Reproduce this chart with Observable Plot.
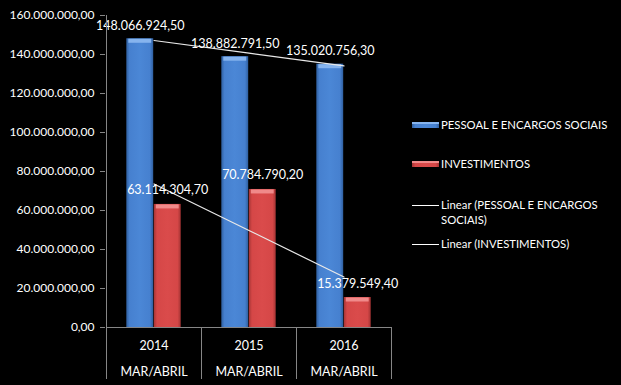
<!DOCTYPE html>
<html>
<head>
<meta charset="utf-8">
<script src="https://cdn.jsdelivr.net/npm/d3@7"></script>
<script src="https://cdn.jsdelivr.net/npm/@observablehq/plot@0.6"></script>
<style>
  html, body { margin: 0; padding: 0; background: #000; }
  #chart { width: 621px; height: 385px; overflow: hidden; }
</style>
</head>
<body>
<div id="chart"></div>
<script>
const years = ["2014", "2015", "2016"];
const periodLabel = "MAR/ABRIL";
const seriesNames = ["PESSOAL E ENCARGOS SOCIAIS", "INVESTIMENTOS"];
const pessoal = [148066924.50, 138882791.50, 135020756.30];
const investimentos = [63114304.70, 70784790.20, 15379549.40];
const yTicks = [0, 20e6, 40e6, 60e6, 80e6, 100e6, 120e6, 140e6, 160e6];

const FONT = "Lato, 'DejaVu Sans', sans-serif";
const br = d3.formatLocale({decimal: ",", thousands: ".", grouping: [3], currency: ["R$", ""]});
const fmt = br.format(",.2f");

const pData = years.map((year, i) => ({year, value: pessoal[i], series: seriesNames[0]}));
const iData = years.map((year, i) => ({year, value: investimentos[i], series: seriesNames[1]}));

// least-squares linear trend over category index (Excel "Linear" trendline)
function trend(values, name) {
  const xs = values.map((_, i) => i + 1);
  const mx = d3.mean(xs), my = d3.mean(values);
  const b = d3.sum(xs, (x, i) => (x - mx) * (values[i] - my)) / d3.sum(xs, x => (x - mx) ** 2);
  const a = my - b * mx;
  return years.map((year, i) => ({year, value: a + b * xs[i], series: name}));
}
const trendData = [...trend(pessoal, "Linear (P)"), ...trend(investimentos, "Linear (I)")];

const W = 621, H = 385;
const pairInsetOuter = 20.3, pairInsetInner = 47.8;

const chart = Plot.plot({
  width: W,
  height: H,
  marginLeft: 105,
  marginRight: 229,
  marginTop: 15,
  marginBottom: 58,
  style: {background: "#000", color: "#fff", fontFamily: FONT, fontSize: "12px", overflow: "visible"},
  x: {domain: years, padding: 0, axis: null},
  y: {domain: [0, 160e6], axis: null},
  marks: [
    Plot.axisY({ticks: yTicks, tickFormat: fmt, tickSize: 5, tickPadding: 6, stroke: "#868686", fill: "#fff", fontSize: 12, label: null}),
    Plot.barY(pData, {x: "year", y: "value", fill: "url(#gradBlue)", insetLeft: pairInsetOuter, insetRight: pairInsetInner}),
    Plot.barY(iData, {x: "year", y: "value", fill: "url(#gradRed)", insetLeft: pairInsetInner, insetRight: pairInsetOuter}),
    Plot.tickY(pData, {x: "year", y: "value", stroke: "#86b4ee", strokeWidth: 4, dy: 2, insetLeft: pairInsetOuter + 2, insetRight: pairInsetInner + 2}),
    Plot.tickY(iData, {x: "year", y: "value", stroke: "#f08a8a", strokeWidth: 4, dy: 2, insetLeft: pairInsetInner + 2, insetRight: pairInsetOuter + 2}),
    Plot.line(trendData, {x: "year", y: "value", z: "series", stroke: "#e8e8e8", strokeWidth: 1.2}),
    Plot.text(pData, {x: "year", y: "value", text: d => fmt(d.value), dx: -13.75, dy: -13, fill: "#fff", fontSize: 12.5}),
    Plot.text(iData, {x: "year", y: "value", text: d => fmt(d.value), dx: 13.75, dy: -14, fill: "#fff", fontSize: 12.5}),
    Plot.text(years, {x: d => d, y: 0, text: d => d, dy: 18, fill: "#fff", fontSize: 12.5}),
    Plot.text(years, {x: d => d, y: 0, text: () => periodLabel, dy: 44, fill: "#fff", fontSize: 12.5})
  ]
});

document.getElementById("chart").appendChild(chart);

const svg = d3.select(chart);
const defs = svg.insert("defs", ":first-child");
function grad(id, edge, mid, light) {
  const g = defs.append("linearGradient").attr("id", id).attr("x1", "0").attr("x2", "1").attr("y1", "0").attr("y2", "0");
  [[0, edge], [0.12, mid], [0.5, light], [0.88, mid], [1, edge]].forEach(([o, c]) =>
    g.append("stop").attr("offset", o).attr("stop-color", c));
}
grad("gradBlue", "#2f5f9f", "#4680cf", "#4b87d6");
grad("gradRed", "#a53434", "#d54747", "#da4b4b");

// axis lines and category separators from the plot's own scales
const xs = chart.scale("x"), ys = chart.scale("y");
const y0 = ys.apply(0), yTop = ys.apply(160e6);
const bw = xs.bandwidth;
const g = svg.append("g").attr("stroke", "#868686").attr("stroke-width", 1);
const xLeft = xs.apply(years[0]);
g.append("line").attr("x1", xLeft + 0.5).attr("x2", xLeft + 0.5).attr("y1", yTop).attr("y2", y0);
g.append("line").attr("x1", xLeft).attr("x2", xs.apply(years[years.length - 1]) + bw).attr("y1", y0 + 0.5).attr("y2", y0 + 0.5);
const edges = years.map(y => xs.apply(y)).concat([xs.apply(years[years.length - 1]) + bw]);
edges.forEach(e => g.append("line").attr("x1", Math.round(e) + 0.5).attr("x2", Math.round(e) + 0.5).attr("y1", y0).attr("y2", H - 6));

// legend
const lg = svg.append("g").attr("font-family", FONT).attr("font-size", 11.3).attr("fill", "#fff").attr("text-anchor", "start");
const lx = 412, sw = 27;
const items = [
  {type: "bar", fill: "url(#gradBlue)", top: "#86b4ee", lines: [seriesNames[0]], y: 125},
  {type: "bar", fill: "url(#gradRed)", top: "#f08a8a", lines: [seriesNames[1]], y: 164},
  {type: "line", lines: ["Linear (PESSOAL E ENCARGOS", "SOCIAIS)"], y: 205},
  {type: "line", lines: ["Linear (INVESTIMENTOS)"], y: 244}
];
items.forEach(it => {
  if (it.type === "bar") {
    lg.append("rect").attr("x", lx).attr("y", it.y - 3).attr("width", sw).attr("height", 6).attr("fill", it.fill);
    lg.append("rect").attr("x", lx).attr("y", it.y - 3).attr("width", sw).attr("height", 2).attr("fill", it.top);
  } else {
    lg.append("line").attr("x1", lx).attr("x2", lx + sw).attr("y1", it.y + 0.5).attr("y2", it.y + 0.5).attr("stroke", "#fff");
  }
  it.lines.forEach((t, k) => lg.append("text").attr("x", lx + sw + 2).attr("y", it.y + k * 15).attr("dy", "0.35em").attr("text-anchor", "start").text(t));
});
</script>
</body>
</html>
